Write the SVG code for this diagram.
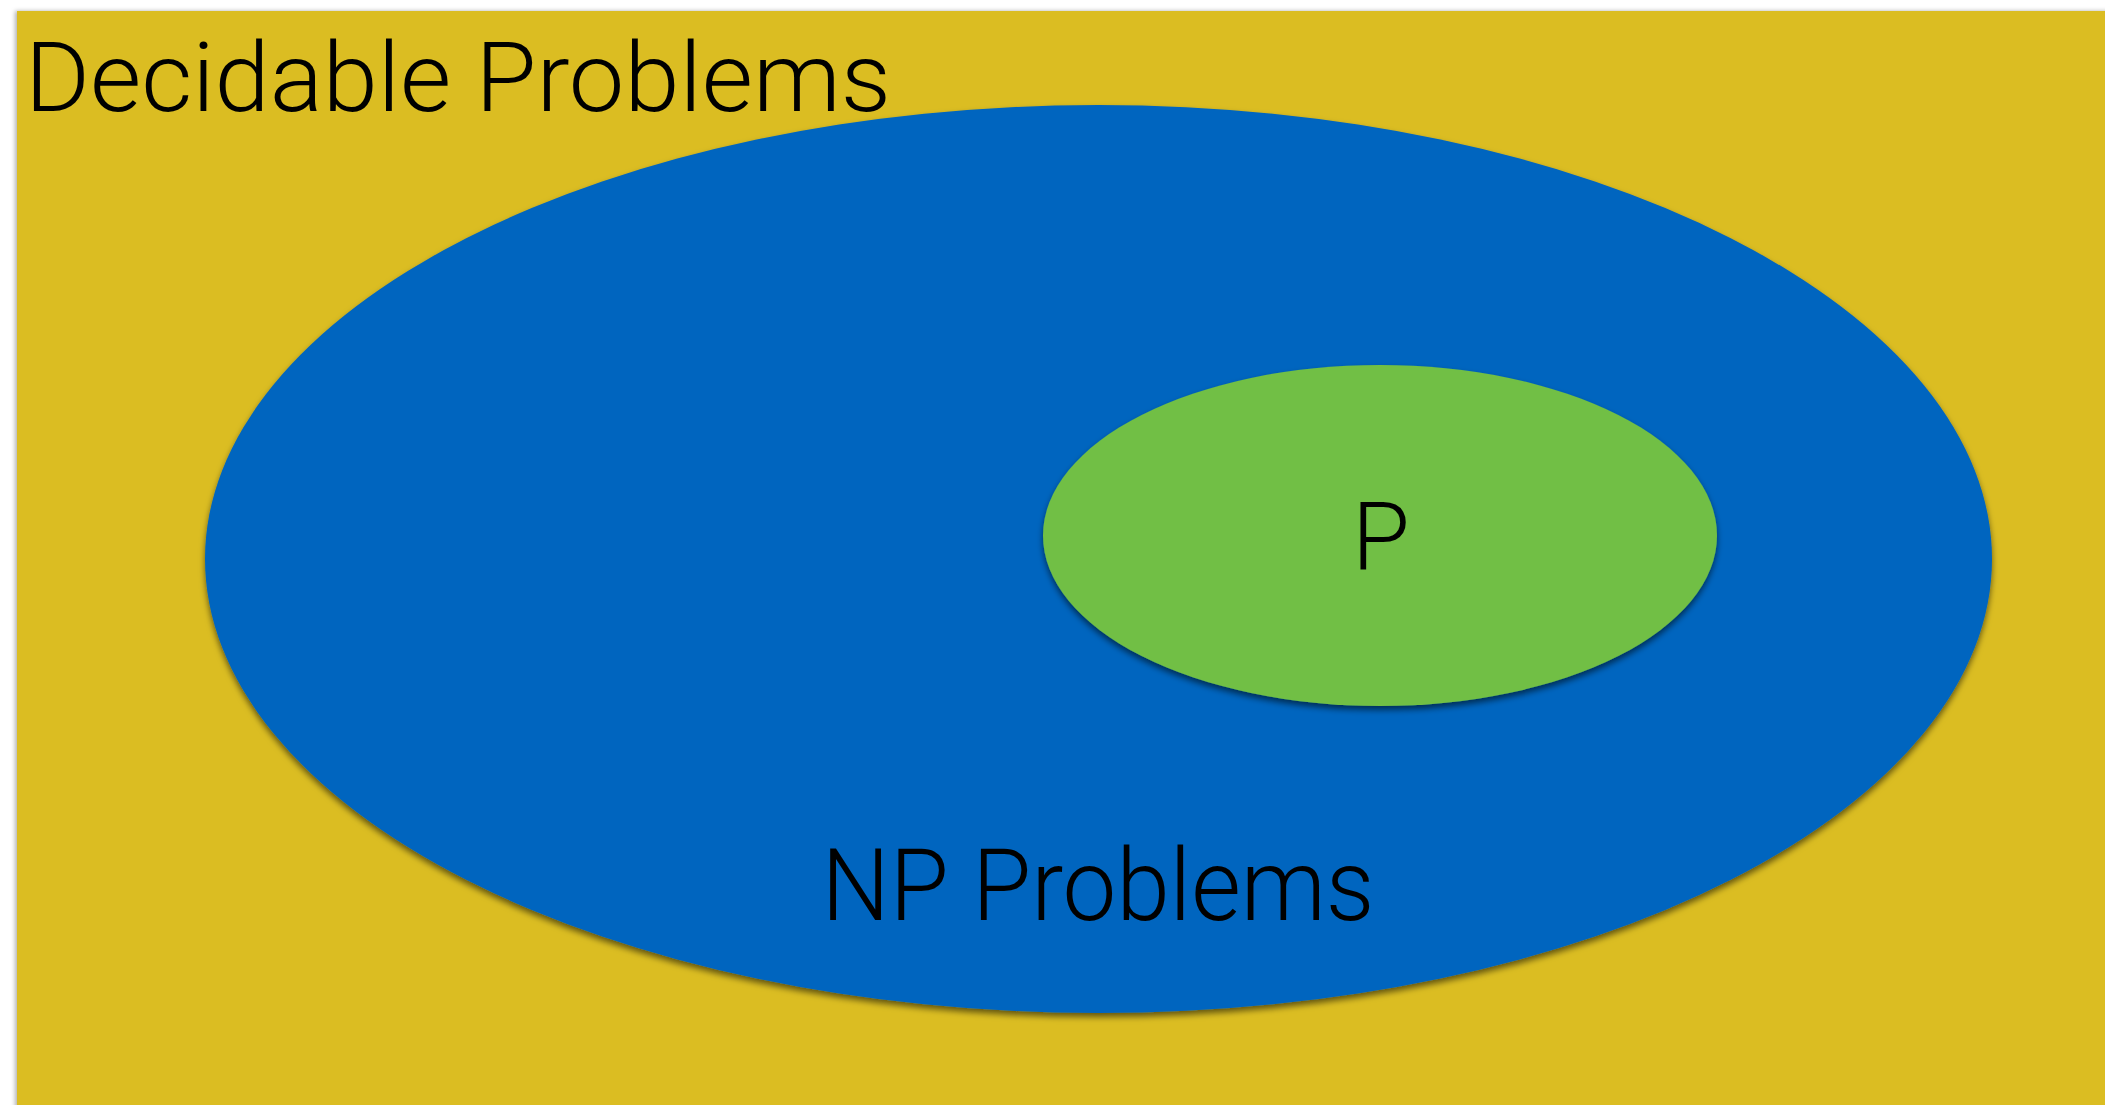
<svg xmlns="http://www.w3.org/2000/svg" width="2105" height="1105" viewBox="0 0 2105 1105">
<defs>
<style>
.lbl{font-family:Roboto,"Liberation Sans",Arial,sans-serif;font-weight:300;fill:#000;}
</style>
<filter id="sh" x="-10%" y="-10%" width="120%" height="125%">
<feDropShadow dx="0" dy="4" stdDeviation="3" flood-color="#000" flood-opacity="0.55"/>
</filter>
<filter id="shr" x="-2%" y="-2%" width="104%" height="104%">
<feDropShadow dx="-2" dy="0" stdDeviation="2" flood-color="#000" flood-opacity="0.3"/>
</filter>
</defs>
<rect width="2105" height="1105" fill="#ffffff"/>
<g id="decidable">
<rect x="17" y="11" width="2100" height="1110" fill="#DBBD22" filter="url(#shr)"/>
<text class="lbl" x="25" y="111" font-size="96" textLength="866" lengthAdjust="spacingAndGlyphs">Decidable Problems</text>
</g>
<g id="np">
<ellipse cx="1098.5" cy="559" rx="893.5" ry="454" fill="#0465BF" filter="url(#sh)"/>
<text class="lbl" x="1098" y="920" font-size="100" text-anchor="middle" textLength="553" lengthAdjust="spacingAndGlyphs">NP Problems</text>
</g>
<g id="p">
<ellipse cx="1380" cy="535.5" rx="337" ry="170.5" fill="#71BF44" filter="url(#sh)"/>
<text class="lbl" x="1381" y="569" font-size="94" text-anchor="middle">P</text>
</g>
<g id="connectors"></g>
</svg>
